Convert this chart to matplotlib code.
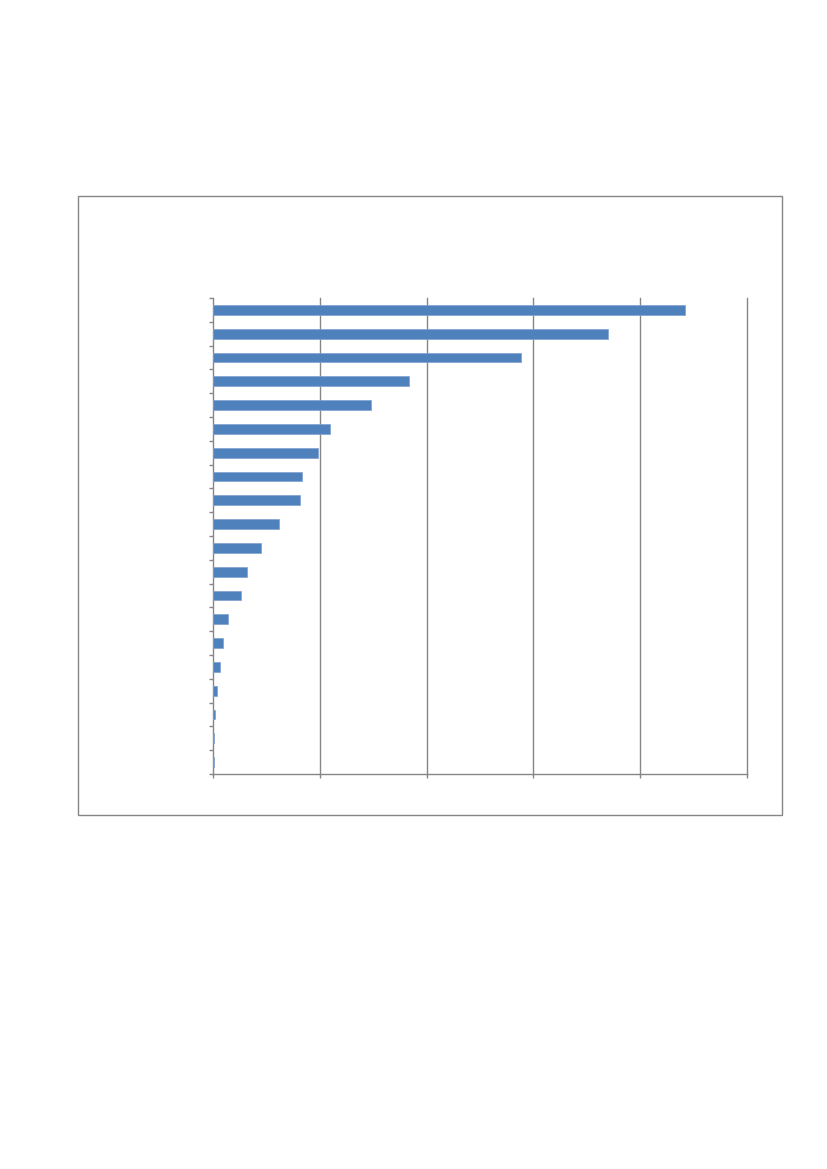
import matplotlib
matplotlib.use('Agg')
import matplotlib.pyplot as plt
from matplotlib.patches import Rectangle
import numpy as np

# bar lengths (units of one gridline interval), top bar first
values = [4.42, 3.70, 2.88, 1.835, 1.48, 1.095, 0.983, 0.833, 0.815, 0.618,
          0.449, 0.318, 0.262, 0.140, 0.094, 0.066, 0.033, 0.015, 0.012, 0.012]
x_ticks = [0, 1, 2, 3, 4, 5]

bar_color = '#4F81BD'
grid_color = '#868686'

fig = plt.figure(figsize=(8.27, 11.69), dpi=100)

# outer chart frame
frame = Rectangle((78 / 827, 1 - 815 / 1169), (782 - 78) / 827, (815 - 196) / 1169,
                  transform=fig.transFigure, fill=False, edgecolor=grid_color, linewidth=1)
fig.patches.append(frame)

ax = fig.add_axes([213 / 827, 1 - 774 / 1169, (747 - 213) / 827, (774 - 298) / 1169])

pos = np.arange(len(values))
ax.barh(pos, values, height=0.42, color=bar_color, edgecolor='#7FA2CF', linewidth=0.5, zorder=3)

ax.set_xlim(0, 5)
ax.set_ylim(len(values) - 0.5, -0.5)

ax.set_xticks(x_ticks)
ax.set_xticklabels([])
ax.set_yticks(np.arange(-0.5, len(values)))
ax.set_yticklabels([])

# vertical gridlines, not clipped so the last one at the right edge shows fully
for xv in x_ticks[1:]:
    ax.axvline(xv, color=grid_color, linewidth=1, zorder=0, clip_on=False)
ax.tick_params(axis='both', direction='out', length=3, width=1, color=grid_color)

for s in ['top', 'right']:
    ax.spines[s].set_visible(False)
for s in ['left', 'bottom']:
    ax.spines[s].set_color(grid_color)
    ax.spines[s].set_linewidth(1)

fig.savefig('out.png', dpi=100)
